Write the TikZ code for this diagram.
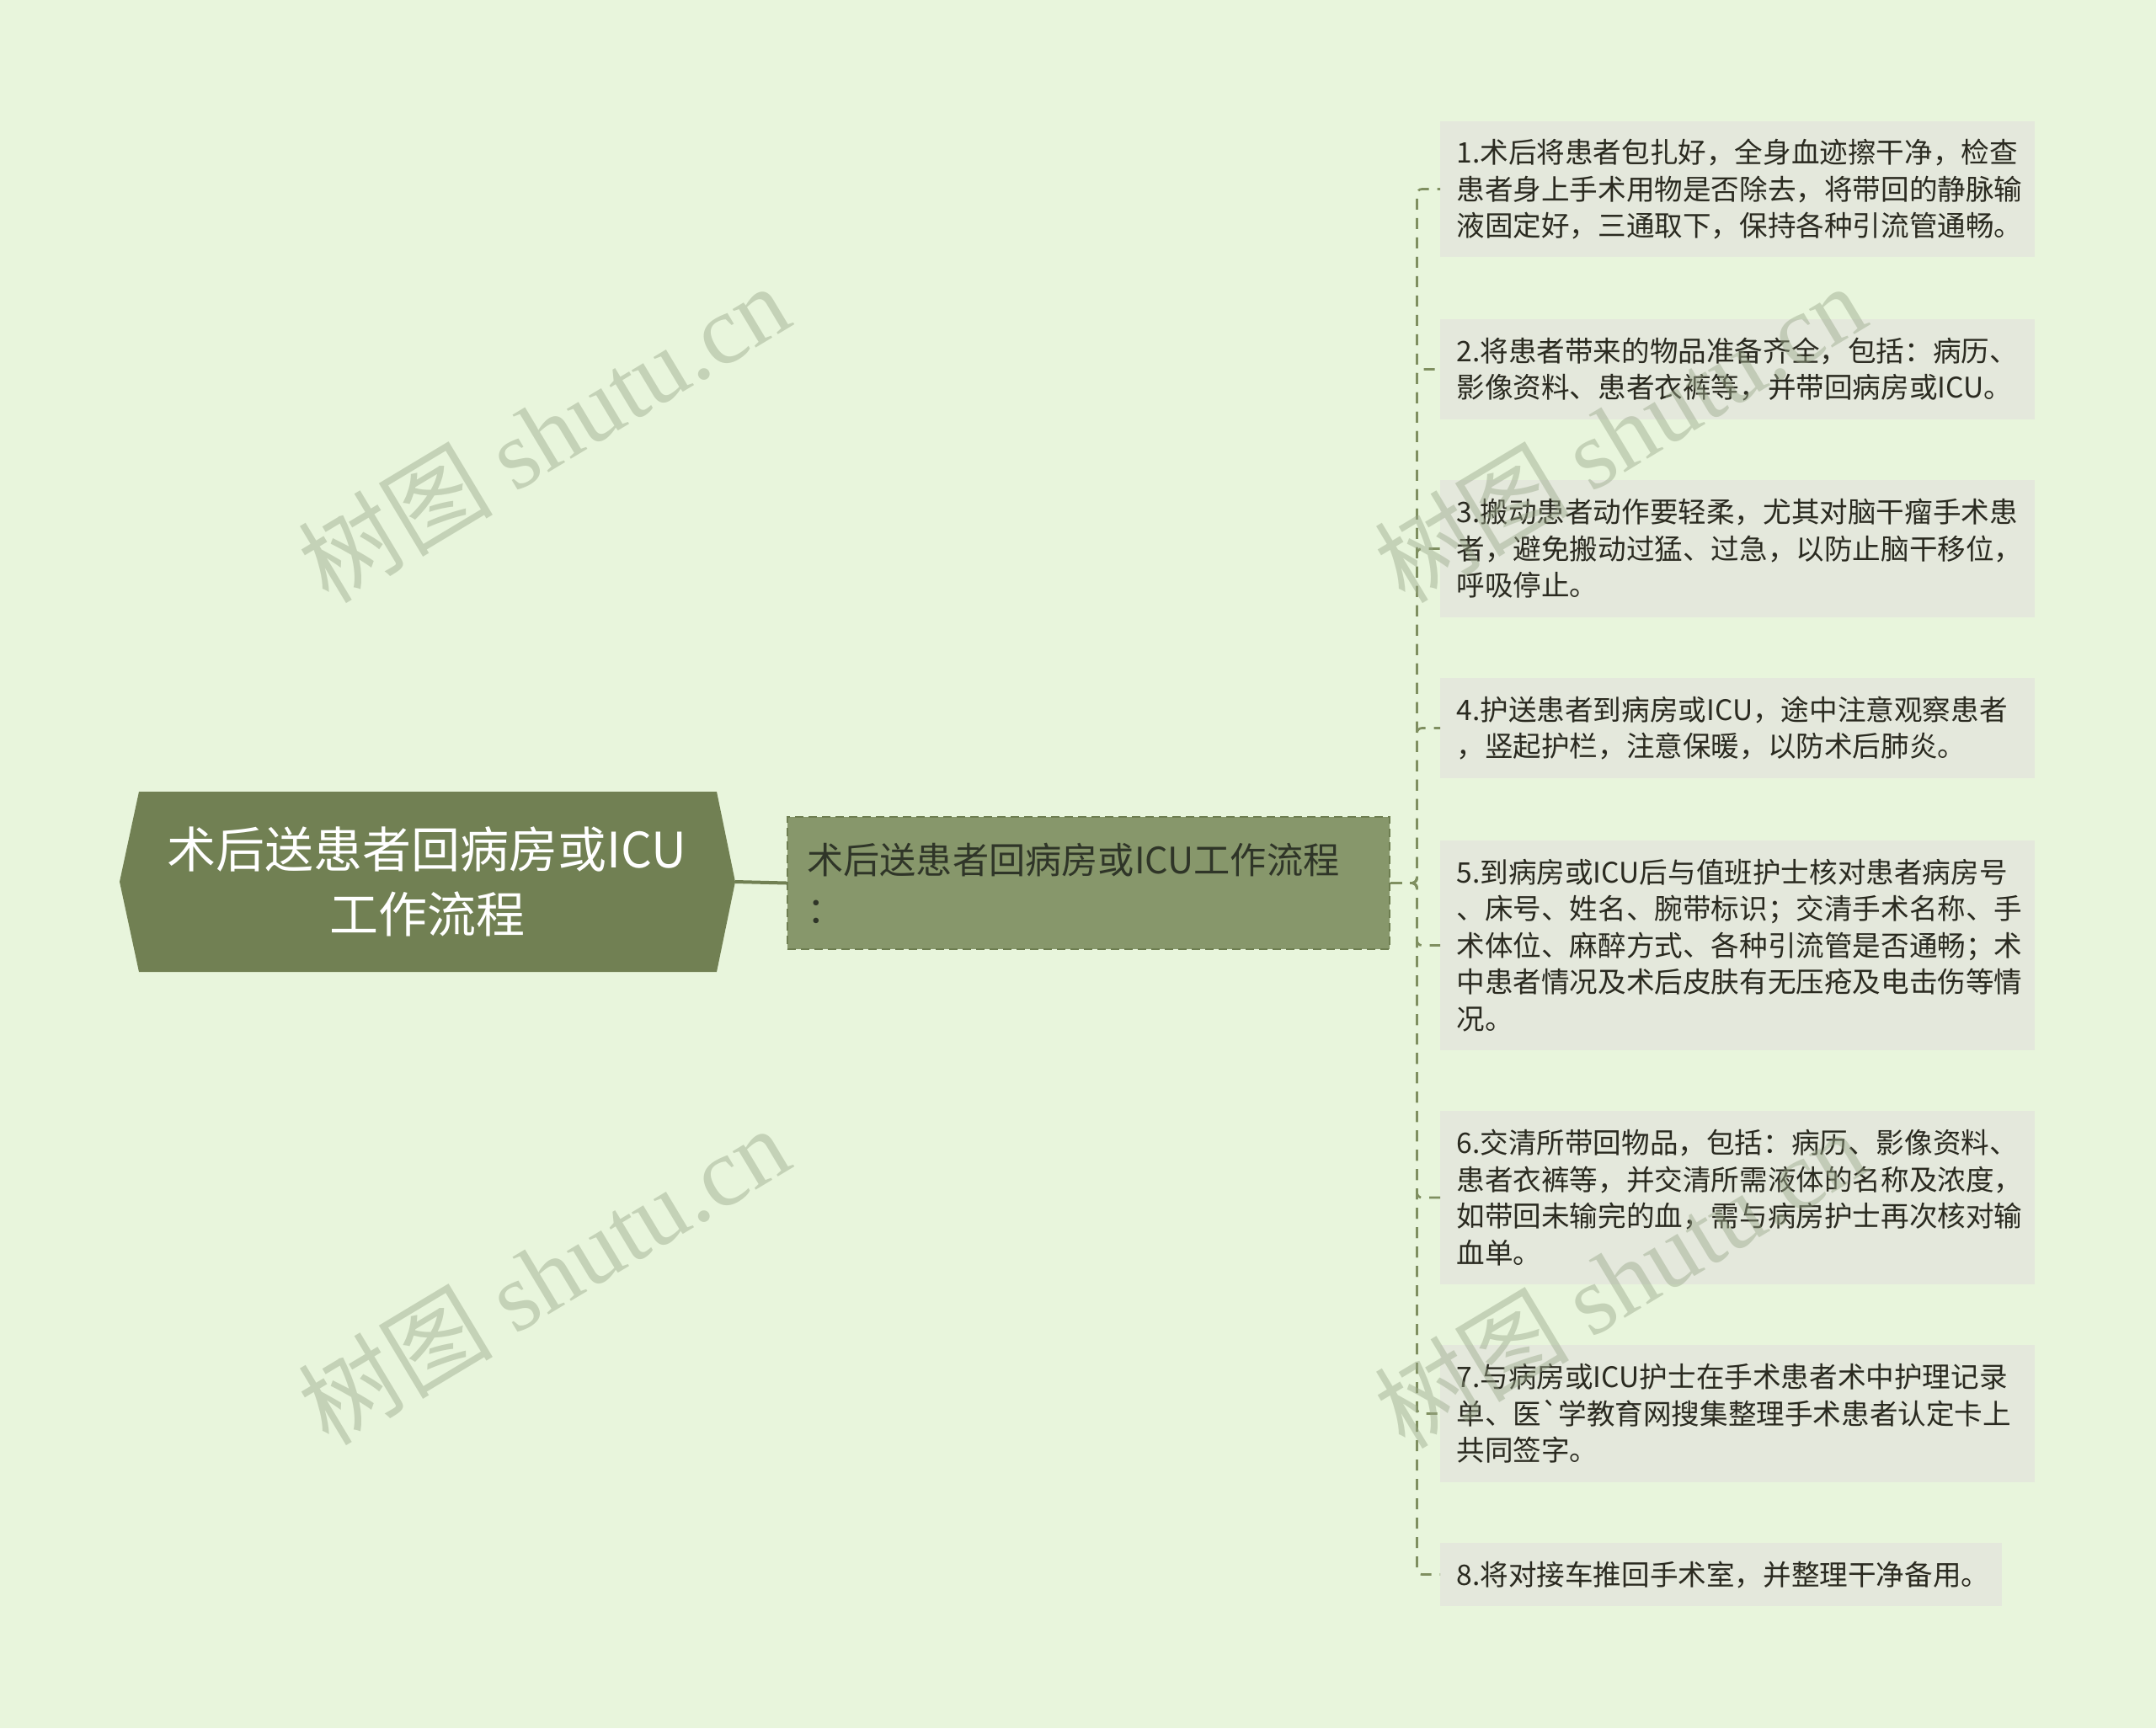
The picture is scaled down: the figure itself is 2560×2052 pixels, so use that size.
\documentclass[tikz,border=0pt]{standalone}
\usepackage{fontspec}
\setmainfont{Noto Sans CJK SC}
\newfontfamily\cjk{Noto Sans CJK SC}
\newfontfamily\wmlatin{Liberation Serif}
\definecolor{bgc}{HTML}{E8F5DC}
\definecolor{rootc}{HTML}{718053}
\definecolor{midc}{HTML}{87976B}
\definecolor{midb}{HTML}{6E7E51}
\definecolor{leafc}{HTML}{E4E8DC}
\definecolor{linec}{HTML}{7F8F60}
\definecolor{txt}{HTML}{2A2A20}
\definecolor{midtxt}{HTML}{2F3528}
\definecolor{wmc}{HTML}{9AA88A}
\tikzset{
  roottext/.style={text=white, align=center, inner sep=0pt,
    font=\fontsize{29pt}{38.5pt}\selectfont},
  midbox/.style={fill=midc, draw=midb, line width=1.2pt, dash pattern=on 5pt off 3pt,
    anchor=west, align=left, text=midtxt, inner xsep=11.5pt, inner ysep=4pt,
    minimum width=357.5pt, minimum height=78.5pt, text width=334.5pt,
    font=\fontsize{21.6pt}{29.5pt}\selectfont},
  leafbox/.style={fill=leafc, anchor=west, align=left, text=txt,
    inner xsep=9.5pt, inner ysep=4pt, minimum width=353pt, text width=334pt,
    font=\fontsize{16.8pt}{21.75pt}\selectfont},
  conn/.style={draw=linec, line width=1.35pt, dash pattern=on 6.5pt off 5pt, rounded corners=3pt},
  rootlink/.style={draw=rootc, line width=2pt},
  wm/.style={text=wmc, text opacity=0.45, rotate=31, inner sep=0pt,
    font=\fontsize{58pt}{60pt}\selectfont}
}
\begin{document}
\begin{tikzpicture}[x=0.5pt,y=-0.5pt]
\fill[bgc] (0,0) rectangle (2560,2052);
\useasboundingbox (0,0) rectangle (2560,2052);

% root
\fill[rootc] (142,1047) -- (165,940) -- (851,940) -- (873,1047) -- (851,1154) -- (165,1154) -- cycle;
\node[roottext] (root) at (507,1047) {术后送患者回病房或ICU\\工作流程};
\coordinate (rootE) at (873,1047);

% middle
\node[midbox] (mid) at (934,1048.5) {术后送患者回病房或ICU工作流程\\：};

% leaves
\node[leafbox, minimum height=80.5pt] (leaf1) at (1710,224.5)
  {1.术后将患者包扎好，全身血迹擦干净，检查\\患者身上手术用物是否除去，将带回的静脉输\\液固定好，三通取下，保持各种引流管通畅。};
\node[leafbox, minimum height=59.5pt] (leaf2) at (1710,438.5)
  {2.将患者带来的物品准备齐全，包括：病历、\\影像资料、患者衣裤等，并带回病房或ICU。};
\node[leafbox, minimum height=81.5pt] (leaf3) at (1710,651.5)
  {3.搬动患者动作要轻柔，尤其对脑干瘤手术患\\者，避免搬动过猛、过急，以防止脑干移位，\\呼吸停止。};
\node[leafbox, minimum height=59.5pt] (leaf4) at (1710,864.5)
  {4.护送患者到病房或ICU，途中注意观察患者\\，竖起护栏，注意保暖，以防术后肺炎。};
\node[leafbox, minimum height=124.5pt] (leaf5) at (1710,1122.5)
  {5.到病房或ICU后与值班护士核对患者病房号\\、床号、姓名、腕带标识；交清手术名称、手\\术体位、麻醉方式、各种引流管是否通畅；术\\中患者情况及术后皮肤有无压疮及电击伤等情\\况。};
\node[leafbox, minimum height=103pt] (leaf6) at (1710,1422)
  {6.交清所带回物品，包括：病历、影像资料、\\患者衣裤等，并交清所需液体的名称及浓度，\\如带回未输完的血，需与病房护士再次核对输\\血单。};
\node[leafbox, minimum height=81.5pt] (leaf7) at (1710,1678.5)
  {7.与病房或ICU护士在手术患者术中护理记录\\单、医{\cjk `}学教育网搜集整理手术患者认定卡上\\共同签字。};
\node[leafbox, minimum height=37.5pt, minimum width=333.5pt, text width=314.5pt] (leaf8) at (1710,1869.5)
  {8.将对接车推回手术室，并整理干净备用。};

% connectors
\draw[rootlink] (rootE) -- (mid.west);
\foreach \i in {1,...,8}{
  \draw[conn] (mid.east) -- ++(15.5pt,0pt) |- (leaf\i.west);
}

% watermarks
\node[wm] (wm1) at (645,514) {{\cjk 树图} {\wmlatin shutu.cn}};
\node[wm] (wm2) at (645,1514) {{\cjk 树图} {\wmlatin shutu.cn}};
\node[wm] (wm3) at (1923,514) {{\cjk 树图} {\wmlatin shutu.cn}};
\node[wm] (wm4) at (1923,1518) {{\cjk 树图} {\wmlatin shutu.cn}};
\end{tikzpicture}
\end{document}
